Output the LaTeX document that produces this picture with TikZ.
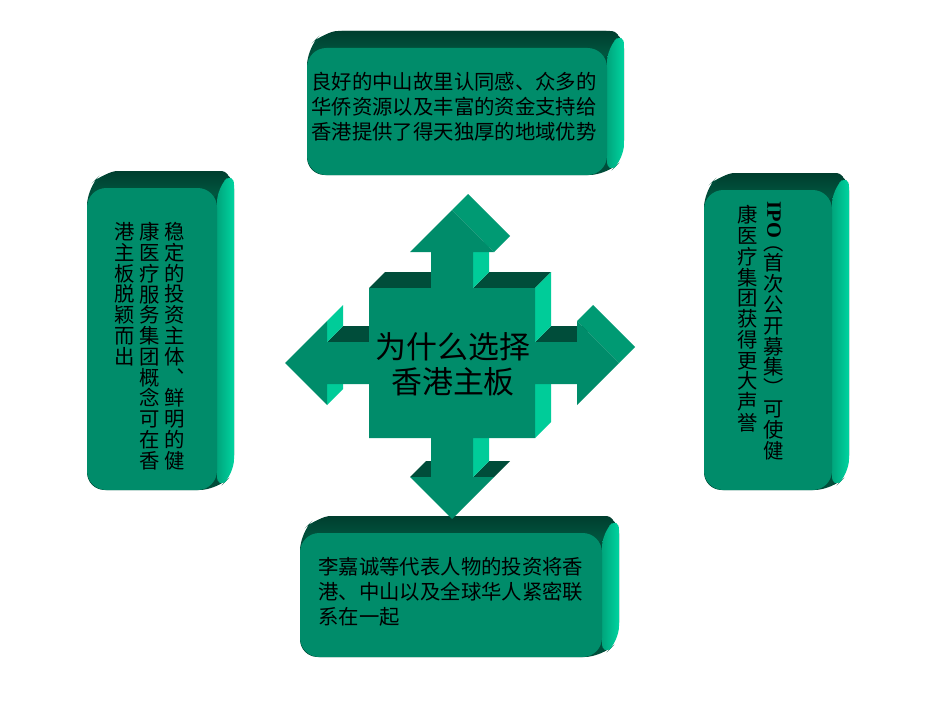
\documentclass[tikz,border=0pt]{standalone}
\usepackage{fontspec}
\usepackage{graphicx}
\setmainfont{Noto Sans CJK SC}
\newfontfamily\latinfont{Liberation Serif}
\usetikzlibrary{calc}
\definecolor{frontc}{RGB}{0,140,106}
\definecolor{topc}{RGB}{0,77,58}
\definecolor{topdk}{RGB}{0,62,46}
\definecolor{toplt}{RGB}{0,92,68}
\definecolor{sidec}{RGB}{0,204,153}
\definecolor{headc}{RGB}{0,154,115}
\definecolor{sidedk}{RGB}{0,165,124}
\definecolor{sidelt}{RGB}{0,212,160}
\def\vcol#1{\vbox{\baselineskip=1.02em\lineskiplimit=-5pt\vstep#1\relax}}
\def\vstep#1{\ifx\relax#1\else\hbox to 1em{\hss#1\hss}\expandafter\vstep\fi}
\newcommand{\slab}[4]{%
	\fill[topc,rounded corners=10pt] (#1,#4) -- (#1,#2) -- (#1+17,#2-17) -- (#3+17,#2-17) -- (#3+17,#4-17) -- (#3,#4) -- cycle;
	\shade[top color=topdk,bottom color=toplt,rounded corners=8pt] (#1,#2+12) -- (#1+17,#2-17) -- (#3+17,#2-17) -- (#3,#2+12) -- cycle;
	\shade[left color=sidedk,right color=sidelt,rounded corners=8pt] (#3,#2) -- (#3+17,#2-17) -- (#3+17,#4-17) -- (#3,#4) -- cycle;
	\fill[frontc,rounded corners=11pt] (#1,#2) rectangle (#3,#4);}
\begin{document}
\begin{tikzpicture}[x=0.02cm,y=-0.02cm,
	txt/.style={font=\fontsize{11.6}{14.2}\selectfont,align=left,inner sep=0pt},
	vtxt/.style={font=\fontsize{11.6}{14.2}\selectfont,inner sep=0pt}]
	\fill[white] (0,0) rectangle (950,713);
	\slab{307}{48}{607}{175}
	\slab{87}{188}{217}{490}
	\slab{704}{190}{832}{490}
	\slab{300}{533}{602}{657}
	\foreach \a/\b in {{369,288}/{431,288},{473,288}/{535,288},{327,342}/{369,342},{535,342}/{577,342},{410,477}/{431,477},{473,477}/{494,477}}
		\fill[topc] (\a) -- (\b) -- ++(16,-16) -- ($(\a)+(16,-16)$) -- cycle;
	\foreach \a/\b in {{473,252}/{473,288},{535,288}/{535,342},{535,384}/{535,438},{473,438}/{473,477},{327,321}/{327,342},{327,384}/{327,405}}
		\fill[sidec] (\a) -- (\b) -- ++(16,-16) -- ($(\a)+(16,-16)$) -- cycle;
	\foreach \a/\b in {{452,210}/{494,252},{577,321}/{619,363}}
		\fill[headc] (\a) -- (\b) -- ++(16,-16) -- ($(\a)+(16,-16)$) -- cycle;
	\fill[frontc] (452,210) -- (494,252) -- (473,252) -- (473,288) -- (535,288) -- (535,342) -- (577,342) -- (577,321) -- (619,363) -- (577,405) -- (577,384) -- (535,384) -- (535,438) -- (473,438) -- (473,477) -- (494,477) -- (452,519) -- (410,477) -- (431,477) -- (431,438) -- (369,438) -- (369,384) -- (327,384) -- (327,405) -- (285,363) -- (327,321) -- (327,342) -- (369,342) -- (369,288) -- (431,288) -- (431,252) -- (410,252) -- cycle;
	\node[font=\fontsize{17.6}{19.8}\selectfont,align=center,inner sep=0pt] (title) at (453,364) {为什么选择\\香港主板};
	\node[txt,anchor=north west] (upper) at (311,72) {良好的中山故里认同感、众多的\\华侨资源以及丰富的资金支持给\\香港提供了得天独厚的地域优势};
	\node[txt,anchor=north west] (lower) at (318,557) {李嘉诚等代表人物的投资将香\\港、中山以及全球华人紧密联\\系在一起};
	\node[vtxt,anchor=north] (leftA) at (175,222) {\vcol{稳定的投资主体︑鲜明的健}};
	\node[vtxt,anchor=north] (leftB) at (150,222) {\vcol{康医疗服务集团概念可在香}};
	\node[vtxt,anchor=north] (leftC) at (125,222) {\vcol{港主板脱颖而出}};
	\node[vtxt,font=\latinfont\bfseries\fontsize{11.6}{14}\selectfont,rotate=-90] (ipo) at (774,220) {IPO};
	\node[vtxt,anchor=north] (rightA) at (774,246) {\vcol{︵首次公开募集︶可使健}};
	\node[vtxt,anchor=north] (rightB) at (748,205) {\vcol{康医疗集团获得更大声誉}};
\end{tikzpicture}
\end{document}
